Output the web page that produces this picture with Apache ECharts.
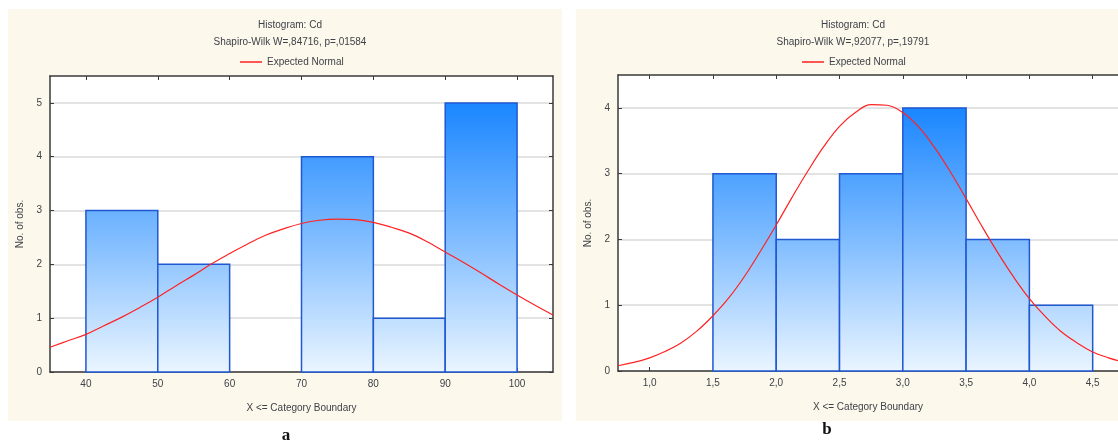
<!DOCTYPE html>
<html>
<head>
<meta charset="utf-8">
<script src="https://cdn.jsdelivr.net/npm/echarts@6/dist/echarts.min.js"></script>
<style>
  html, body { margin: 0; padding: 0; background: #ffffff; }
  #chart { width: 1118px; height: 444px; }
</style>
</head>
<body>
<div id="chart"></div>
<script>
// ---- Panel a: Cd histogram, bin edges 40..100 ----
const edgesA = [40, 50, 60, 70, 80, 90, 100];
const countsA = [3, 2, 0, 4, 1, 5];
const ticksXA = [40, 50, 60, 70, 80, 90, 100];
const ticksYA = [0, 1, 2, 3, 4, 5];
const normalXA = [35, 37.5, 40, 42.5, 45, 47.5, 50, 52.5, 55, 57.5, 60, 62.5, 65, 67.5, 70, 72.5,
                  75, 77.5, 80, 82.5, 85, 87.5, 90, 92.5, 95, 97.5, 100, 102.5, 105];
const normalYA = [0.46, 0.58, 0.70, 0.86, 1.02, 1.20, 1.39, 1.60, 1.80, 2.01, 2.20, 2.38, 2.54, 2.66, 2.76, 2.82,
                  2.84, 2.83, 2.78, 2.69, 2.58, 2.42, 2.23, 2.04, 1.84, 1.63, 1.43, 1.24, 1.06];
const titleA = 'Histogram: Cd';
const subA = 'Shapiro-Wilk W=,84716, p=,01584';

// ---- Panel b: Cd histogram, bin edges 1.5..4.5 ----
const edgesB = [1.5, 2.0, 2.5, 3.0, 3.5, 4.0, 4.5];
const countsB = [3, 2, 3, 4, 2, 1];
const ticksXB = [1.0, 1.5, 2.0, 2.5, 3.0, 3.5, 4.0, 4.5];
const ticksYB = [0, 1, 2, 3, 4];
const normalXB = [0.75, 0.875, 1.0, 1.125, 1.25, 1.375, 1.5, 1.625, 1.75, 1.875, 2.0, 2.125, 2.25, 2.375,
                  2.5, 2.625, 2.75, 2.875, 3.0, 3.125, 3.25, 3.375, 3.5, 3.625, 3.75, 3.875, 4.0, 4.125,
                  4.25, 4.375, 4.5, 4.625, 4.75];
const normalYB = [0.08, 0.13, 0.20, 0.30, 0.43, 0.61, 0.84, 1.11, 1.44, 1.82, 2.22, 2.64, 3.04, 3.41,
                  3.72, 3.93, 4.05, 4.04, 3.93, 3.71, 3.40, 3.03, 2.62, 2.20, 1.80, 1.43, 1.10, 0.83,
                  0.60, 0.43, 0.29, 0.20, 0.13];
const titleB = 'Histogram: Cd';
const subB = 'Shapiro-Wilk W=,92077, p=,19791';

const legendName = 'Expected Normal';
const xName = 'X <= Category Boundary';
const yName = 'No. of obs.';

const bins = (edges, counts) => counts.map((c, i) => [edges[i], edges[i + 1], c]);
const pairs = (xs, ys) => xs.map((x, i) => [x, ys[i]]);

const TXT = '#3e4248';
const AXIS = '#3a3a3a';
const FONT = 'Liberation Sans, Arial, sans-serif';

// bars share one vertical gradient running from the tallest bin down to zero
function histRender(maxCount) {
  return function (params, api) {
    const x0 = api.value(0), x1 = api.value(1), c = api.value(2);
    if (!c) return null;
    const p0 = api.coord([x0, 0]);
    const p1 = api.coord([x1, c]);
    const yTop = api.coord([x0, maxCount])[1];
    const fill = new echarts.graphic.LinearGradient(0, yTop, 0, p0[1], [
      { offset: 0, color: '#1a86ff' },
      { offset: 0.5, color: '#7fbcff' },
      { offset: 1, color: '#eaf5ff' }
    ], true);
    return {
      type: 'rect',
      shape: { x: p0[0], y: p1[1], width: p1[0] - p0[0], height: p0[1] - p1[1] },
      style: { fill: fill, stroke: '#1f58d2', lineWidth: 1.5 }
    };
  };
}

function bottomAxis(grid, min, max, ticks, fmt) {
  return {
    type: 'value', gridIndex: grid, min: min, max: max, position: 'bottom',
    name: xName, nameLocation: 'middle', nameGap: 31,
    nameTextStyle: { color: TXT, fontSize: 10, fontFamily: FONT },
    axisLine: { show: true, onZero: false, lineStyle: { color: AXIS, width: 1.5 } },
    axisTick: { show: true, inside: true, length: 4, customValues: ticks, lineStyle: { color: AXIS } },
    axisLabel: { customValues: ticks, formatter: fmt, color: TXT, fontSize: 10, fontFamily: FONT, margin: 7 },
    splitLine: { show: false }
  };
}
function topAxis(grid, min, max, ticks) {
  return {
    type: 'value', gridIndex: grid, min: min, max: max, position: 'top',
    axisLine: { show: true, onZero: false, lineStyle: { color: AXIS, width: 1.5 } },
    axisTick: { show: true, inside: true, length: 4, customValues: ticks, lineStyle: { color: AXIS } },
    axisLabel: { show: false },
    splitLine: { show: false }
  };
}
function leftAxis(grid, max, ticks) {
  return {
    type: 'value', gridIndex: grid, min: 0, max: max, interval: 1, position: 'left',
    name: yName, nameLocation: 'middle', nameGap: 25, nameRotate: 90,
    nameTextStyle: { color: TXT, fontSize: 10, fontFamily: FONT },
    axisLine: { show: true, onZero: false, lineStyle: { color: AXIS, width: 1.5 } },
    axisTick: { show: true, inside: true, length: 4, customValues: ticks, lineStyle: { color: AXIS } },
    axisLabel: { customValues: ticks, color: TXT, fontSize: 10, fontFamily: FONT, margin: 8 },
    splitLine: { show: true, lineStyle: { color: '#dadada', width: 1.5 } }
  };
}
function rightAxis(grid, max, ticks, visible) {
  return {
    type: 'value', gridIndex: grid, min: 0, max: max, interval: 1, position: 'right',
    show: visible,
    axisLine: { show: true, onZero: false, lineStyle: { color: AXIS, width: 1.5 } },
    axisTick: { show: true, inside: true, length: 4, customValues: ticks, lineStyle: { color: AXIS } },
    axisLabel: { show: false },
    splitLine: { show: false }
  };
}

const commaFmt = v => v.toFixed(1).replace('.', ',');

const chart = echarts.init(document.getElementById('chart'), null, { renderer: 'canvas' });

chart.setOption({
  backgroundColor: '#ffffff',
  animation: false,
  graphic: [
    { type: 'rect', z: -10, silent: true, shape: { x: 8, y: 9, width: 554, height: 412 }, style: { fill: '#fdf8ec' } },
    { type: 'rect', z: -10, silent: true, shape: { x: 576, y: 9, width: 542, height: 412 }, style: { fill: '#fdf8ec' } },
    { type: 'text', x: 286, y: 436, style: { text: 'a', font: 'bold 17px "Liberation Serif", serif', fill: '#111', align: 'center', verticalAlign: 'middle' } },
    { type: 'text', x: 827, y: 430, style: { text: 'b', font: 'bold 17px "Liberation Serif", serif', fill: '#111', align: 'center', verticalAlign: 'middle' } }
  ],
  title: [
    { text: titleA, subtext: subA, left: 285, top: 15, textAlign: 'center', itemGap: 7,
      textStyle: { fontSize: 10, fontWeight: 'normal', color: TXT, fontFamily: FONT },
      subtextStyle: { fontSize: 10, color: TXT, fontFamily: FONT } },
    { text: titleB, subtext: subB, left: 848, top: 15, textAlign: 'center', itemGap: 7,
      textStyle: { fontSize: 10, fontWeight: 'normal', color: TXT, fontFamily: FONT },
      subtextStyle: { fontSize: 10, color: TXT, fontFamily: FONT } }
  ],
  legend: [
    { data: [legendName], left: 235, top: 52, icon: 'rect', itemWidth: 22, itemHeight: 1.5, itemGap: 6,
      selectedMode: false, textStyle: { fontSize: 10, color: TXT, fontFamily: FONT } },
    { data: [legendName], left: 797, top: 52, icon: 'rect', itemWidth: 22, itemHeight: 1.5, itemGap: 6,
      selectedMode: false, textStyle: { fontSize: 10, color: TXT, fontFamily: FONT } }
  ],
  grid: [
    { left: 50, top: 76, width: 503, height: 296, show: true, backgroundColor: '#ffffff', borderWidth: 0 },
    { left: 618, top: 75, width: 500, height: 296, show: true, backgroundColor: '#ffffff', borderWidth: 0 }
  ],
  xAxis: [
    bottomAxis(0, 35, 105, ticksXA, v => String(v)),
    topAxis(0, 35, 105, ticksXA),
    bottomAxis(1, 0.75, 4.7, ticksXB, commaFmt),
    topAxis(1, 0.75, 4.7, ticksXB)
  ],
  yAxis: [
    leftAxis(0, 5.5, ticksYA),
    rightAxis(0, 5.5, ticksYA, true),
    leftAxis(1, 4.5, ticksYB),
    rightAxis(1, 4.5, ticksYB, false)
  ],
  series: [
    { type: 'custom', xAxisIndex: 0, yAxisIndex: 0, renderItem: histRender(Math.max(...countsA)),
      encode: { x: [0, 1], y: 2 }, data: bins(edgesA, countsA), z: 2 },
    { type: 'line', name: legendName, xAxisIndex: 0, yAxisIndex: 0, data: pairs(normalXA, normalYA),
      smooth: 0.4, symbol: 'none', color: '#ff2222',
      lineStyle: { color: '#ff2222', width: 1.2 }, z: 3 },
    { type: 'custom', xAxisIndex: 2, yAxisIndex: 2, renderItem: histRender(Math.max(...countsB)),
      encode: { x: [0, 1], y: 2 }, data: bins(edgesB, countsB), z: 2 },
    { type: 'line', name: legendName, xAxisIndex: 2, yAxisIndex: 2, data: pairs(normalXB, normalYB),
      smooth: 0.4, symbol: 'none', color: '#ff2222',
      lineStyle: { color: '#ff2222', width: 1.2 }, z: 3 }
  ]
});
</script>
</body>
</html>
